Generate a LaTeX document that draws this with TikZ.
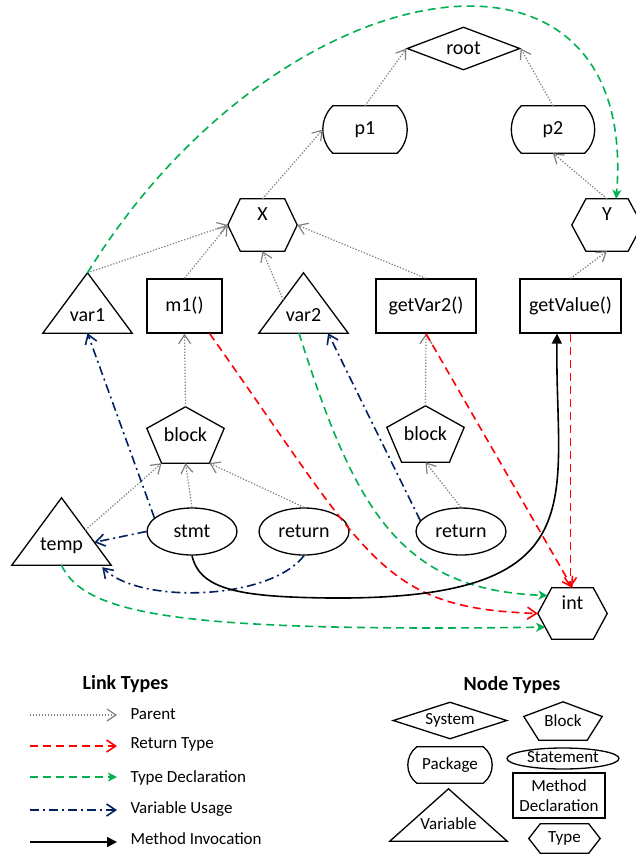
\documentclass[tikz,border=0pt]{standalone}
\usepackage{fontspec}
\setmainfont{Carlito}
\usetikzlibrary{arrows.meta,calc,shapes.geometric,shapes.misc}
\definecolor{pgray}{RGB}{128,128,128}
\definecolor{tgreen}{RGB}{0,176,80}
\definecolor{vnavy}{RGB}{0,32,96}
\newcommand\hexo[2]{\draw[outl] (#1.west) -- ($(#1.north west)!#2!(#1.north east)$) -- ($(#1.north east)!#2!(#1.north west)$) -- (#1.east) -- ($(#1.south east)!#2!(#1.south west)$) -- ($(#1.south west)!#2!(#1.south east)$) -- cycle;}
\newcommand\pento[1]{\draw[outl] (#1.north) -- ($(#1.north east)!0.382!(#1.south east)$) -- ($(#1.south east)!0.191!(#1.south west)$) -- ($(#1.south west)!0.191!(#1.south east)$) -- ($(#1.north west)!0.382!(#1.south west)$) -- cycle;}
\newcommand\trio[1]{\draw[outl] (#1.north) -- (#1.south east) -- (#1.south west) -- cycle;}
% package outline: node, bulge, control dx, control dy
\newcommand\pkgo[4]{\draw[outl] ($(#1.north west)+(#2,0)$) -- ($(#1.north east)+(-#2,0)$) .. controls ($(#1.north east)+(-#2,0)+(#3,#4)$) and ($(#1.south east)+(-#2,0)+(#3,-#4)$) .. ($(#1.south east)+(-#2,0)$) -- ($(#1.south west)+(#2,0)$) .. controls ($(#1.south west)+(#2,0)+(-#3,-#4)$) and ($(#1.north west)+(#2,0)+(-#3,#4)$) .. ($(#1.north west)+(#2,0)$) -- cycle;}
\begin{document}
\begin{tikzpicture}[x=1pt,y=-1pt,
  outl/.style={draw=black, line width=1.3pt},
  big/.style={font=\fontsize{20}{24}\selectfont},
  small/.style={font=\fontsize{17}{20}\selectfont},
  rectn/.style={rectangle, outl, inner sep=0pt, big},
  pkgn/.style={rectangle, draw=none, inner sep=0pt, big},
  dia/.style={diamond, aspect=2.6, outl, inner sep=0pt, big},
  stm/.style={ellipse, outl, inner sep=0pt, minimum width=90pt, minimum height=47pt, big},
  hexn/.style={rectangle, draw=none, inner sep=0pt, text height=13pt, text depth=22pt, big},
  pentn/.style={rectangle, draw=none, inner sep=0pt, big},
  trin/.style={rectangle, draw=none, inner sep=0pt, text height=40pt, text depth=3pt, big},
  par/.style={draw=pgray, line width=1.2pt, dash pattern=on 1.3pt off 1.7pt, -{Straight Barb[length=9pt,width=12pt]}},
  ret/.style={draw=red, line width=1.6pt, dash pattern=on 8pt off 5pt, -{Straight Barb[length=9pt,width=12pt]}},
  tdec/.style={draw=tgreen, line width=1.6pt, dash pattern=on 8pt off 5pt, -{Stealth[length=9pt,width=9pt,inset=2.5pt]}},
  vuse/.style={draw=vnavy, line width=1.6pt, dash pattern=on 9pt off 4pt on 2pt off 4pt, -{Straight Barb[length=9pt,width=12pt]}},
  minv/.style={draw=black, line width=1.6pt, -{Triangle[length=10pt,width=10pt]}}
]
\fill[white] (0,0) rectangle (636,855);
\useasboundingbox (0,0) rectangle (636,855);

% ---- main nodes
\node[dia, minimum width=113pt, minimum height=43pt] (root) at (463.5,48.5) {root};
\node[pkgn, minimum width=84pt, minimum height=47pt] (p1) at (365,129.5) {p1};
\pkgo{p1}{10}{13.3}{12.75}
\node[pkgn, minimum width=83pt, minimum height=47pt] (p2) at (553,129.5) {p2};
\pkgo{p2}{10}{13.3}{12.75}
\node[hexn, minimum width=69pt, minimum height=52pt] (X) at (262.5,225) {X};
\hexo{X}{0.18}
\node[hexn, minimum width=70pt, minimum height=52pt] (Y) at (607,225) {Y};
\hexo{Y}{0.2}
\node[trin, minimum width=89pt, minimum height=60pt] (var1) at (87.5,303) {var1};
\trio{var1}
\node[rectn, minimum width=75pt, minimum height=54pt] (m1) at (184.5,306) {m1()};
\node[trin, minimum width=89pt, minimum height=60pt] (var2) at (303.5,303) {var2};
\trio{var2}
\node[rectn, minimum width=100pt, minimum height=54pt] (gv2) at (426,306) {getVar2()};
\node[rectn, minimum width=101pt, minimum height=54pt] (gval) at (570.5,306) {getValue()};
\node[pentn, minimum width=77pt, minimum height=56pt] (b1) at (185.5,435) {block};
\pento{b1}
\node[pentn, minimum width=77pt, minimum height=56pt] (b2) at (425.5,434) {block};
\pento{b2}
\node[trin, minimum width=99pt, minimum height=67pt] (temp) at (61.5,531.5) {temp};
\trio{temp}
\node[stm] (stmt) at (192,531.5) {stmt};
\node[stm] (r1) at (304,531.5) {return};
\node[stm] (r2) at (461,531.5) {return};
\node[hexn, minimum width=69pt, minimum height=51pt] (int) at (572.5,613.5) {int};
\hexo{int}{0.2}
\coordinate (intNW) at ($(int.north west)!0.2!(int.north east)$);
\coordinate (intSW) at ($(int.south west)!0.2!(int.south east)$);

% ---- parent links
\draw[par] (p1.north) -- (root.west);
\draw[par] (p2.north) -- (root.east);
\draw[par] (X.north) -- (p1.west);
\draw[par] (Y.north) -- (p2.south);
\draw[par] (var1.north) -- (X.west);
\draw[par] (m1.north) -- (X.west);
\draw[par] ($(var2.north)!0.45!(var2.south west)$) -- (X.south);
\draw[par] (gv2.north) -- (X.east);
\draw[par] (gval.north) -- (Y.south);
\draw[par] (b1.north) -- (m1.south);
\draw[par] (b2.north) -- (gv2.south);
\draw[par] (stmt.north) -- (b1.south);
\draw[par] (r1.north) -- ($(b1.south east)!0.191!(b1.south west)$);
\draw[par] ($(temp.north)!0.48!(temp.south east)$) -- ($(b1.south west)!0.191!(b1.south east)$);
\draw[par] (r2.north) -- (b2.south);

% ---- return types
\draw[ret] ($(m1.south west)!0.83!(m1.south east)$) .. controls (370,560) and (380,608) .. (int.west);
\draw[ret] (gv2.south) -- (int.north);
\draw[ret] (gval.south) -- (gval.south |- int.north);

% ---- type declarations
\draw[tdec] (var1.north) .. controls (278,-36) and (640,-95) .. ($(Y.north)!0.26!(Y.north east)$);
\draw[tdec] ($(var2.south west)!0.45!(var2.south east)$) .. controls (355,510) and (400,590) .. ($(int.west)!0.7!(intNW)$);
\draw[tdec] (temp.south) .. controls (85,615) and (180,632) .. ($(int.west)!0.53!(intSW)$);

% ---- variable usage
\draw[vuse] (stmt.160) -- (var1.south);
\draw[vuse] (stmt.west) -- ($(temp.north)!0.66!(temp.south east)$);
\draw[vuse] (r1.south) .. controls (270,600) and (140,605) .. ($(temp.south east)+(-9,2)$);
\draw[vuse] (r2.165) -- ($(var2.south west)!0.775!(var2.south east)$);

% ---- method invocation
\draw[minv] (stmt.south) .. controls (200,590) and (240,597) .. (330,598) .. controls (600,600) and (555,500) .. ($(gval.south)+(-13.5,0)$);

% ---- legend: link types
\node[font=\bfseries\fontsize{20}{24}\selectfont] (ltitle) at (125.5,684) {Link Types};
\coordinate (lg1s) at (30,715);  \coordinate (lg1e) at (117,715);
\coordinate (lg2s) at (30,746);  \coordinate (lg2e) at (117,746);
\coordinate (lg3s) at (30,777);  \coordinate (lg3e) at (117,777);
\coordinate (lg4s) at (30,810);  \coordinate (lg4e) at (117,810);
\coordinate (lg5s) at (30,842);  \coordinate (lg5e) at (117,842);
\draw[par] (lg1s) -- (lg1e);
\draw[ret] (lg2s) -- (lg2e);
\draw[tdec] (lg3s) -- (lg3e);
\draw[vuse] (lg4s) -- (lg4e);
\draw[minv] (lg5s) -- (lg5e);
\node[small, anchor=west] (lt1) at (127,714) {Parent};
\node[small, anchor=west] (lt2) at (127,744) {Return Type};
\node[small, anchor=west] (lt3) at (127,778) {Type Declaration};
\node[small, anchor=west] (lt4) at (127,809) {Variable Usage};
\node[small, anchor=west] (lt5) at (127,839) {Method Invocation};

% ---- legend: node types
\node[font=\bfseries\fontsize{20}{24}\selectfont] (ntitle) at (512,685) {Node Types};
\node[dia, small, minimum width=114pt, minimum height=37pt] (lsys) at (450,720.5) {System};
\node[pentn, minimum width=78pt, minimum height=38pt, small] (lblk) at (563,721) {Block};
\pento{lblk}
\node[pkgn, minimum width=84pt, minimum height=36pt, small] (lpkg) at (450,765) {Package};
\pkgo{lpkg}{9}{12}{9}
\node[ellipse, outl, inner sep=0pt, minimum width=112pt, minimum height=21pt, text height=7pt, text depth=0pt, small] (lst) at (563,758.5) {Statement};
\node[rectn, small, align=center, minimum width=92pt, minimum height=45pt] (lmd) at (559,795.5) {Method\\Declaration};
\node[trin, small, minimum width=117pt, minimum height=52pt, text height=31pt, text depth=2pt] (lvar) at (448.5,815) {Variable};
\trio{lvar}
\node[hexn, small, minimum width=71pt, minimum height=29pt, text height=12pt, text depth=4pt] (ltyp) at (564.5,838.5) {Type};
\hexo{ltyp}{0.16}
\end{tikzpicture}
\end{document}
